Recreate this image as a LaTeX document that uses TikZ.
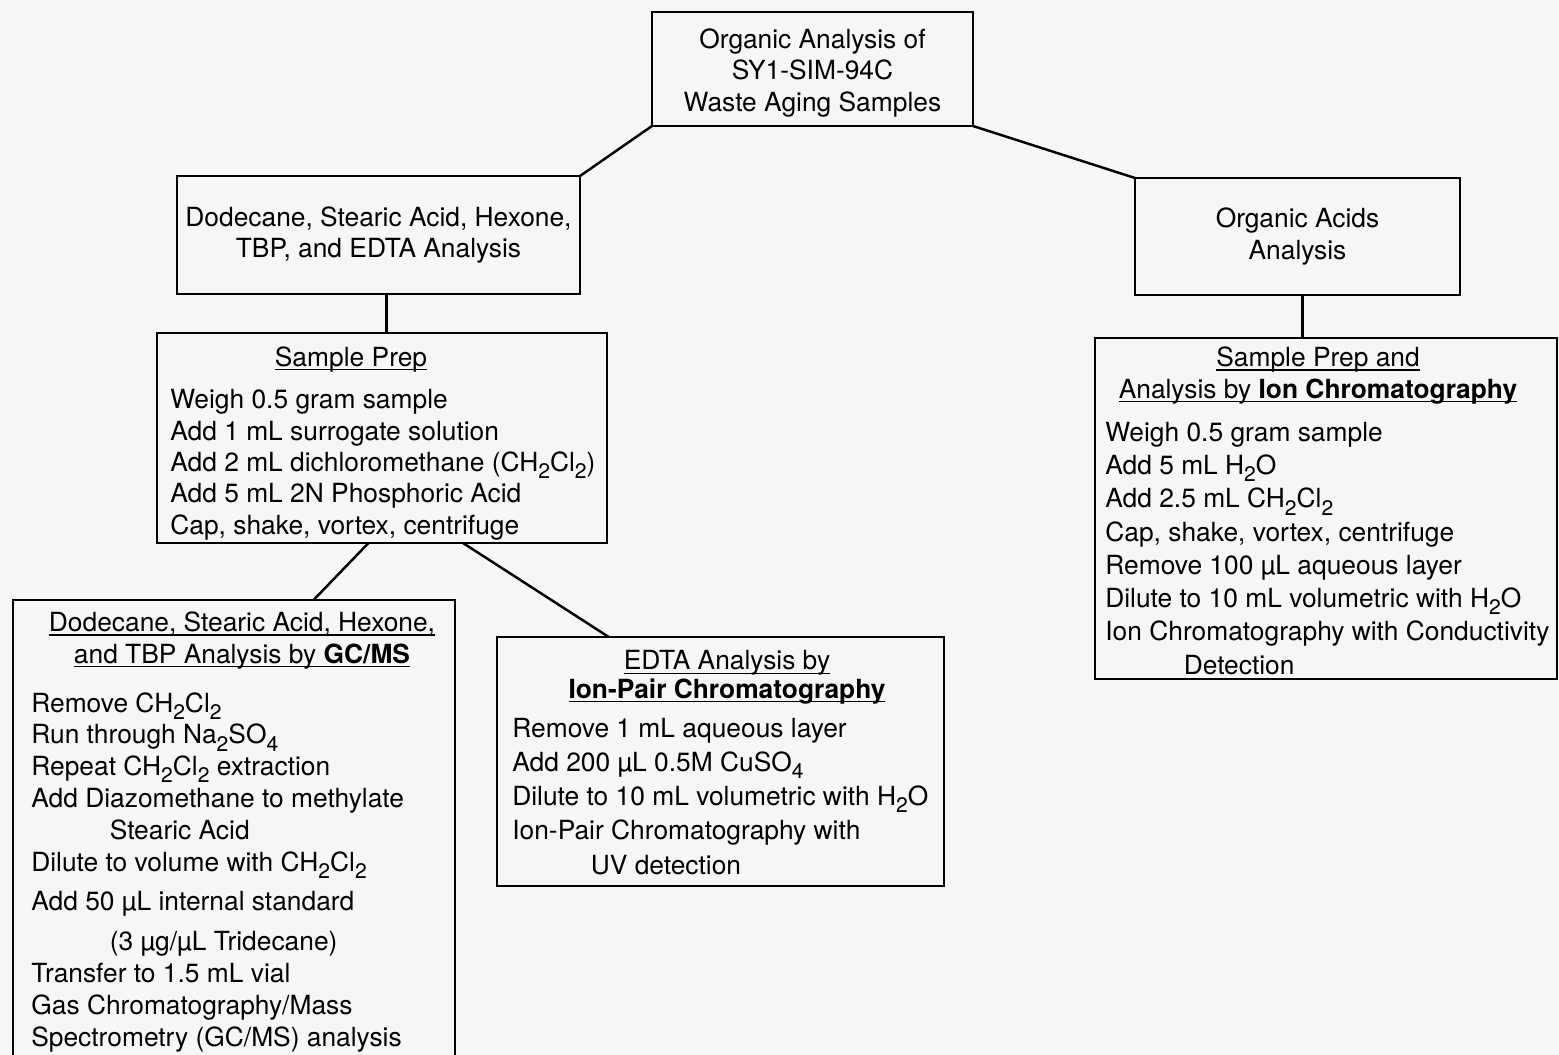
\documentclass[tikz,border=0pt]{standalone}
\usepackage{fontspec}
\setmainfont{TeX Gyre Heros}
\usetikzlibrary{calc,positioning}

\newsavebox{\ulbox}
\newcommand{\uln}[1]{\sbox{\ulbox}{#1}\rlap{\rule[-2.5pt]{\wd\ulbox}{0.9pt}}\usebox{\ulbox}}
\newcommand{\ind}{\hspace*{1.57cm}}
\newcommand{\lo}[1]{\raisebox{-4pt}{\fontsize{12}{12}\selectfont #1}}
\definecolor{paper}{RGB}{246,246,246}

\begin{document}
\begin{tikzpicture}[x=0.02cm, y=-0.02cm,
	box/.style={draw, line width=1.4pt, inner sep=0pt, outer sep=0pt},
	link/.style={line width=1.4pt},
	txt/.style={inner sep=0pt, font=\fontsize{15}{18}\selectfont}]

	\def\pxu{0.02cm}

	\useasboundingbox (0,0) rectangle (1559,1055);
	\fill[paper] (0,0) rectangle (1559,1055);
	\clip (0,0) rectangle (1559,1055);

	% top
	\node[box, txt, align=center, minimum width=321*\pxu, minimum height=114*\pxu]
		(top) at (812.5,69) {\rule{0pt}{15.5pt}Organic Analysis of\\SY1-SIM-94C\\Waste Aging Samples};

	% branches
	\node[box, txt, align=center, minimum width=403*\pxu, minimum height=118*\pxu]
		(dod) at (378.5,235) {Dodecane, Stearic Acid, Hexone,\\TBP, and EDTA Analysis};
	\node[box, txt, align=center, minimum width=325*\pxu, minimum height=117*\pxu]
		(acid) at (1297.5,236.5) {Organic Acids\\Analysis};

	% sample prep (base = last line)
	\node[box, minimum width=450*\pxu, minimum height=210*\pxu] (prep) at (382,438) {};
	\node[txt, anchor=base] (prepHd) at (351,366) {\uln{Sample Prep}};
	\node[txt, anchor=base west, align=left, font=\fontsize{15}{17.8}\selectfont]
		(prepTx) at (170,534) {
		Weigh 0.5 gram sample\\
		Add 1 mL surrogate solution\\
		Add 2 mL dichloromethane (CH\lo{2}Cl\lo{2})\\
		Add 5 mL 2N Phosphoric Acid\\
		Cap, shake, vortex, centrifuge};

	% GC/MS
	\node[box, minimum width=442*\pxu, minimum height=475*\pxu] (gcms) at (234,837.5) {};
	\node[txt, anchor=base, align=center] (gcmsHd) at (242,663)
		{\uln{Dodecane, Stearic Acid, Hexone,}\\\uln{and TBP Analysis by \textbf{GC/MS}}};
	\node[txt, anchor=base west, align=left, font=\fontsize{15}{18.1}\selectfont]
		(gcmsTx) at (31,1046) {
		Remove CH\lo{2}Cl\lo{2}\\
		Run through Na\lo{2}SO\lo{4}\\
		Repeat CH\lo{2}Cl\lo{2} extraction\\
		Add Diazomethane to methylate\\
		\ind Stearic Acid\\
		Dilute to volume with CH\lo{2}Cl\lo{2}\\[4.5pt]
		Add 50 µL internal standard\\[4.5pt]
		\ind (3 µg/µL Tridecane)\\
		Transfer to 1.5 mL vial\\
		Gas Chromatography/Mass\\
		Spectrometry (GC/MS) analysis};

	% EDTA
	\node[box, minimum width=447*\pxu, minimum height=249*\pxu] (edta) at (720.5,761.5) {};
	\node[txt, anchor=base, align=center, font=\fontsize{15}{16}\selectfont] (edtaHd) at (727,698)
		{\uln{EDTA Analysis by}\\\uln{\textbf{Ion-Pair Chromatography}}};
	\node[txt, anchor=base west, align=left, font=\fontsize{15}{19.4}\selectfont]
		(edtaTx) at (512,874) {
		Remove 1 mL aqueous layer\\
		Add 200 µL 0.5M CuSO\lo{4}\\
		Dilute to 10 mL volumetric with H\lo{2}O\\
		Ion-Pair Chromatography with\\
		\ind UV detection};

	% organic acids prep
	\node[box, minimum width=462*\pxu, minimum height=341*\pxu] (rprep) at (1326,508.5) {};
	\node[txt, anchor=base, align=center] (rprepHd) at (1318,398)
		{\uln{Sample Prep and}\\\uln{Analysis by \textbf{Ion Chromatography}}};
	\node[txt, anchor=base west, align=left, font=\fontsize{15}{18.9}\selectfont]
		(rprepTx) at (1105,674) {
		Weigh 0.5 gram sample\\
		Add 5 mL H\lo{2}O\\
		Add 2.5 mL CH\lo{2}Cl\lo{2}\\
		Cap, shake, vortex, centrifuge\\
		Remove 100 µL aqueous layer\\
		Dilute to 10 mL volumetric with H\lo{2}O\\
		Ion Chromatography with Conductivity\\
		\ind Detection};

	% links
	\draw[link] (top.south west) -- (dod.north east);
	\draw[link] (top.south east) -- (acid.north west);
	\draw[link] ($(dod.south west)!.52!(dod.south east)$) coordinate (dodOut)
		-- (dodOut |- prep.north);
	\draw[link] ($(acid.south west)!.515!(acid.south east)$) coordinate (acidOut)
		-- (acidOut |- rprep.north);
	\draw[link] ($(prep.south west)!.47!(prep.south east)$)
		-- ($(gcms.north west)!.68!(gcms.north east)$);
	\draw[link] ($(prep.south west)!.68!(prep.south east)$)
		-- ($(edta.north west)!.25!(edta.north east)$);

\end{tikzpicture}
\end{document}
